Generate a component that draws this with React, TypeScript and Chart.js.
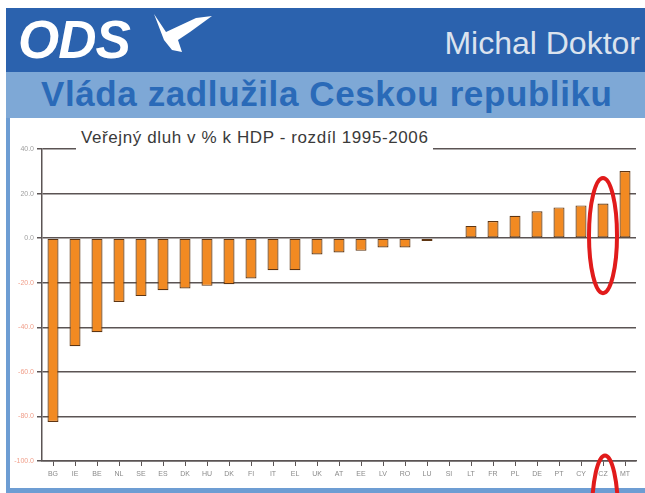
import React, { useEffect, useRef } from "react";
import { Chart, registerables } from "chart.js";

Chart.register(...registerables);

const categories = ["BG","IE","BE","NL","SE","ES","DK","HU","DK","FI","IT","EL","UK","AT","EE","LV","RO","LU","SI","LT","FR","PL","DE","PT","CY","CZ","MT"];
const debtChange = [-82.5,-48.5,-42.2,-28.6,-26,-23.4,-22.6,-21.4,-20.7,-18.1,-14.4,-14.4,-7.3,-6.4,-5.7,-4.2,-4.2,-1.3,0,5.5,7.7,10,12.1,13.8,14.7,15.5,30.1];
const highlightIndex = 25;
const chartTitle = "Veřejný dluh v % k HDP - rozdíl 1995-2006";
const headerTitle = "Vláda zadlužila Ceskou republiku";
const author = "Michal Doktor";

const ellipsePlugin = {
  id: "ellipses",
  afterDraw(chart: any) {
    const { ctx, scales } = chart;
    const x = scales.x.getPixelForValue(highlightIndex);
    const yTop = scales.y.getPixelForValue(27);
    const yBot = scales.y.getPixelForValue(-24.7);
    const ry = (yBot - yTop) / 2;
    ctx.save();
    ctx.strokeStyle = "#e11b1b";
    ctx.lineWidth = 4;
    ctx.beginPath();
    ctx.ellipse(x, (yTop + yBot) / 2, 14, ry, 0, 0, Math.PI * 2);
    ctx.stroke();
    const y2 = scales.y.getPixelForValue(-97.5);
    ctx.beginPath();
    ctx.ellipse(x + 2, y2 + ry, 13, ry, 0, 0, Math.PI * 2);
    ctx.stroke();
    ctx.restore();
  },
};

export default function App() {
  const ref = useRef<HTMLCanvasElement>(null);
  useEffect(() => {
    document.body.style.margin = "0";
    const chart = new Chart(ref.current!, {
      type: "bar",
      data: {
        labels: categories,
        datasets: [
          {
            data: debtChange,
            backgroundColor: "#f28a22",
            borderColor: "#5e3512",
            borderWidth: 1.2,
            borderSkipped: false,
            categoryPercentage: 1,
            barPercentage: 0.5,
          },
        ],
      },
      options: {
        animation: false,
        responsive: false,
        maintainAspectRatio: false,
        layout: { padding: { left: 0, top: 149, right: 9, bottom: 0 } },
        plugins: { legend: { display: false }, tooltip: { enabled: false }, title: { display: false } },
        scales: {
          x: {
            offset: true,
            afterFit: (s: any) => { s.height = 32; },
            grid: { offset: false, drawOnChartArea: false, drawTicks: true, tickLength: 5, color: "#5b5454", lineWidth: 1 },
            border: { display: true, color: "#5b5454", width: 1.5 },
            ticks: { color: "#8a8a8a", font: { family: "Liberation Sans", size: 7 }, padding: 4, maxRotation: 0, autoSkip: false },
          },
          y: {
            min: -100,
            max: 40,
            afterFit: (s: any) => { s.width = 42; },
            grid: { color: "#5b5454", lineWidth: 1.5, tickLength: 5 },
            border: { display: true, color: "#5b5454", width: 1.5 },
            ticks: {
              stepSize: 20,
              padding: 3,
              font: { family: "Liberation Sans", size: 7 },
              color: (c: any) => (c.tick && c.tick.value < 0 ? "#f0a08c" : "#a0a0a0"),
              callback: (v: any) => Number(v).toFixed(1),
            },
          },
        },
      },
      plugins: [ellipsePlugin],
    });
    return () => chart.destroy();
  }, []);

  return (
    <div style={{ position: "relative", width: 645, height: 493, overflow: "hidden", background: "#ffffff", fontFamily: "Liberation Sans, Arial, sans-serif" }}>
      <div style={{ position: "absolute", left: 6, top: 8, width: 639, height: 64, background: "#2b62ae" }} />
      <div style={{ position: "absolute", left: 6, top: 72, width: 639, height: 46, background: "#7ea8d6" }} />
      <div style={{ position: "absolute", left: 6, top: 118, width: 4, height: 375, background: "#6d9dd3" }} />
      <div style={{ position: "absolute", left: 6, top: 488, width: 639, height: 5, background: "#6d9dd3" }} />
      <div style={{ position: "absolute", left: 18, top: 11, color: "#ffffff", fontSize: 53, fontWeight: 900, fontStyle: "italic", lineHeight: "58px", letterSpacing: -1 }}>ODS</div>
      <svg style={{ position: "absolute", left: 140, top: 8 }} width={80} height={50}>
        <path d="M14,6 L26,24 L56,10 L72,8 L50,24 L38,32 L42,44 L32,42 L24,32 Z" fill="#ffffff" />
      </svg>
      <div style={{ position: "absolute", right: 5, top: 23, color: "#dbe3ee", fontSize: 32, fontFamily: "Liberation Sans Narrow, Liberation Sans, sans-serif", lineHeight: "40px", whiteSpace: "nowrap" }}>{author}</div>
      <div style={{ position: "absolute", left: 41, top: 74, color: "#2a6ab8", fontSize: 35, fontWeight: 700, lineHeight: "40px", letterSpacing: 0.6, whiteSpace: "nowrap" }}>{headerTitle}</div>
      <canvas ref={ref} width={645} height={493} style={{ position: "absolute", left: 0, top: 0, width: 645, height: 493 }} />
      <div style={{ position: "absolute", left: 76, top: 125, padding: "0 5px", background: "#ffffff", color: "#3a3a3a", fontSize: 17, lineHeight: "26px", letterSpacing: 0.6, whiteSpace: "nowrap" }}>{chartTitle}</div>
    </div>
  );
}
